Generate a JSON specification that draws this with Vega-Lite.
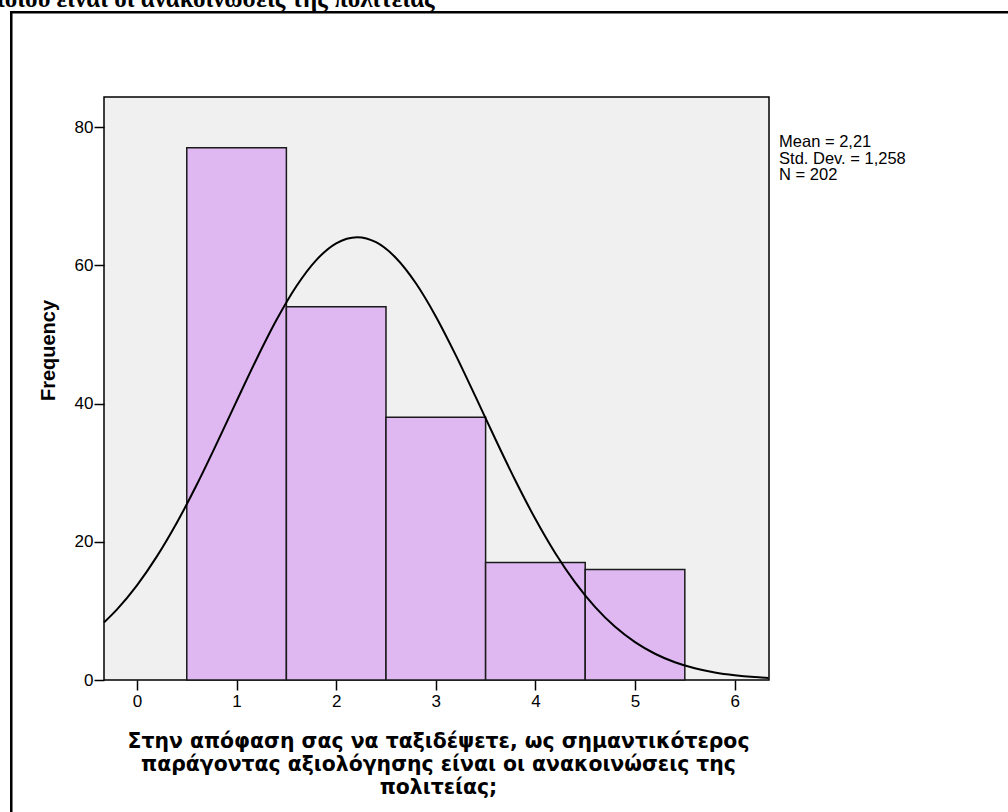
{
  "$schema": "https://vega.github.io/schema/vega-lite/v6.json",
  "width": 665,
  "height": 583,
  "autosize": {"type": "none"},
  "padding": {"left": 104, "top": 97, "right": 239, "bottom": 132},
  "background": "white",
  "config": {
    "view": {"fill": "#F0F0F0", "stroke": "black", "strokeWidth": 1.5},
    "axis": {
      "grid": false,
      "domain": false,
      "labelFont": "Liberation Sans",
      "labelFontSize": 17,
      "labelColor": "black",
      "tickColor": "black",
      "tickWidth": 1.5,
      "titleFont": "Liberation Sans",
      "titleColor": "black",
      "titleFontWeight": "bold"
    }
  },
  "layer": [
    {
      "data": {"values": [{"frame": "outer"}]},
      "mark": {"type": "rect", "fill": null, "stroke": "black", "strokeWidth": 2.5, "clip": false},
      "encoding": {
        "x": {"datum": -1.262, "type": "quantitative", "scale": {"domain": [-0.331, 6.345], "nice": false, "zero": false}},
        "x2": {"datum": 9},
        "y": {"datum": 96.6, "type": "quantitative", "scale": {"domain": [0, 84.34], "nice": false, "zero": false}},
        "y2": {"datum": -40}
      }
    },
    {
      "data": {"values": [{"heading": "ποιου είναι οι ανακοινώσεις της πολιτείας"}]},
      "mark": {"type": "text", "align": "left", "baseline": "alphabetic", "font": "Liberation Serif", "fontSize": 25, "fontWeight": "bold", "color": "black", "clip": false},
      "encoding": {
        "text": {"field": "heading"},
        "x": {"datum": -1.466, "type": "quantitative", "scale": {"domain": [-0.331, 6.345], "nice": false, "zero": false}},
        "y": {"datum": 97.36, "type": "quantitative", "scale": {"domain": [0, 84.34], "nice": false, "zero": false}}
      }
    },
    {
      "data": {
        "values": [
          {"bin_start": 0.5, "bin_end": 1.5, "count": 77},
          {"bin_start": 1.5, "bin_end": 2.5, "count": 54},
          {"bin_start": 2.5, "bin_end": 3.5, "count": 38},
          {"bin_start": 3.5, "bin_end": 4.5, "count": 17},
          {"bin_start": 4.5, "bin_end": 5.5, "count": 16}
        ]
      },
      "mark": {"type": "rect", "fill": "#DFB8F2", "stroke": "#1a1a1a", "strokeWidth": 1.5},
      "encoding": {
        "x": {
          "field": "bin_start",
          "type": "quantitative",
          "scale": {"domain": [-0.331, 6.345], "nice": false, "zero": false},
          "axis": {
            "values": [0, 1, 2, 3, 4, 5, 6],
            "format": "d",
            "tickSize": 10,
            "labelPadding": 3,
            "title": ["Στην απόφαση σας να ταξιδέψετε, ως σημαντικότερος", "παράγοντας αξιολόγησης είναι οι ανακοινώσεις της", "πολιτείας;"],
            "titleFont": "DejaVu Sans",
            "titleFontSize": 20.4,
            "titleLineHeight": 23,
            "titleX": 334,
            "titleY": 67,
            "titleAlign": "center",
            "titleBaseline": "alphabetic",
            "titleAnchor": null
          }
        },
        "x2": {"field": "bin_end"},
        "y": {
          "field": "count",
          "type": "quantitative",
          "scale": {"domain": [0, 84.34], "nice": false, "zero": false},
          "axis": {
            "values": [0, 20, 40, 60, 80],
            "format": "d",
            "tickSize": 10,
            "labelPadding": 1,
            "title": "Frequency",
            "titleFontSize": 20,
            "titleAngle": -90,
            "titleX": -56,
            "titleY": 253,
            "titleAlign": "center",
            "titleBaseline": "middle",
            "titleAnchor": null
          }
        },
        "y2": {"datum": 0}
      }
    },
    {
      "data": {
        "values": [
          {"x": -0.33, "f": 8.34},
          {"x": -0.2, "f": 10.22},
          {"x": 0.0, "f": 13.69},
          {"x": 0.2, "f": 17.88},
          {"x": 0.4, "f": 22.75},
          {"x": 0.6, "f": 28.24},
          {"x": 0.8, "f": 34.19},
          {"x": 1.0, "f": 40.34},
          {"x": 1.2, "f": 46.41},
          {"x": 1.4, "f": 52.07},
          {"x": 1.6, "f": 56.96},
          {"x": 1.8, "f": 60.75},
          {"x": 2.0, "f": 63.17},
          {"x": 2.21, "f": 64.06},
          {"x": 2.4, "f": 63.33},
          {"x": 2.6, "f": 61.05},
          {"x": 2.8, "f": 57.39},
          {"x": 3.0, "f": 52.6},
          {"x": 3.2, "f": 47.0},
          {"x": 3.4, "f": 40.95},
          {"x": 3.6, "f": 34.79},
          {"x": 3.8, "f": 28.82},
          {"x": 4.0, "f": 23.28},
          {"x": 4.2, "f": 18.33},
          {"x": 4.4, "f": 14.08},
          {"x": 4.6, "f": 10.54},
          {"x": 4.8, "f": 7.69},
          {"x": 5.0, "f": 5.48},
          {"x": 5.2, "f": 3.8},
          {"x": 5.4, "f": 2.57},
          {"x": 5.6, "f": 1.7},
          {"x": 5.8, "f": 1.09},
          {"x": 6.0, "f": 0.685},
          {"x": 6.2, "f": 0.419},
          {"x": 6.34, "f": 0.293}
        ]
      },
      "mark": {"type": "line", "color": "black", "strokeWidth": 2, "interpolate": "monotone"},
      "encoding": {
        "x": {"field": "x", "type": "quantitative", "scale": {"domain": [-0.331, 6.345], "nice": false, "zero": false}},
        "y": {"field": "f", "type": "quantitative", "scale": {"domain": [0, 84.34], "nice": false, "zero": false}}
      }
    },
    {
      "data": {"values": [{"stats": ["Mean = 2,21", "Std. Dev. = 1,258", "N = 202"]}]},
      "mark": {"type": "text", "align": "left", "baseline": "alphabetic", "font": "Liberation Sans", "fontSize": 16.5, "lineHeight": 16.5, "color": "black", "clip": false},
      "encoding": {
        "text": {"field": "stats"},
        "x": {"datum": 6.446, "type": "quantitative", "scale": {"domain": [-0.331, 6.345], "nice": false, "zero": false}},
        "y": {"datum": 77.1, "type": "quantitative", "scale": {"domain": [0, 84.34], "nice": false, "zero": false}}
      }
    }
  ]
}
